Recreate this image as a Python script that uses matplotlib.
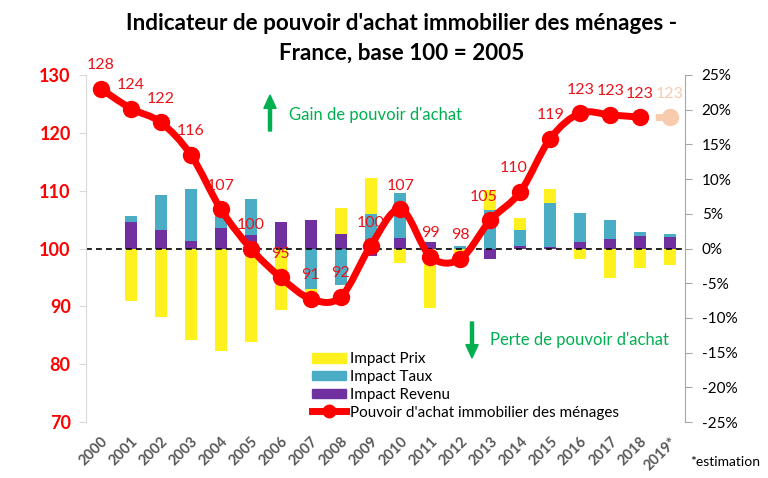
import numpy as np
import matplotlib

matplotlib.use("Agg")
import matplotlib.pyplot as plt
from matplotlib.path import Path
from matplotlib.patches import PathPatch, Patch, FancyArrow
from matplotlib.lines import Line2D

plt.rcParams["font.family"] = ["Lato", "DejaVu Sans"]

YEARS = ["2000", "2001", "2002", "2003", "2004", "2005", "2006", "2007", "2008",
         "2009", "2010", "2011", "2012", "2013", "2014", "2015", "2016", "2017",
         "2018", "2019*"]
# housing purchasing-power index, base 100 = 2005
INDEX = [127.6, 124.2, 121.8, 116.2, 106.8, 100.0, 95.0, 91.3, 91.6, 100.4,
         106.8, 98.6, 98.2, 104.9, 109.8, 119.0, 123.4, 123.1, 122.7, 122.7]
# contributions to the yearly change, in %
IMPACT_REVENU = [0.0, 3.8, 2.6, 1.1, 3.0, 1.9, 3.8, 4.1, 2.1, -1.1,
                 1.5, 0.95, 0.0, -1.45, 0.3, 0.2, 0.9, 1.3, 1.8, 1.6]
IMPACT_TAUX = [0.0, 0.9, 5.1, 7.5, 3.6, 5.2, 0.0, -5.8, -5.3, 4.95,
               6.5, 0.0, 0.3, 5.5, 2.3, 6.4, 4.2, 2.8, 0.55, 0.55]
IMPACT_PRIX = [0.0, -7.6, -9.9, -13.2, -14.8, -13.5, -8.9, -2.1, 3.7, 5.25,
               -2.1, -8.6, -0.6, 2.9, 1.8, 1.95, -1.55, -4.2, -2.8, -2.4]

YELLOW = "#FFF01F"
BLUE = "#4BACC6"
PURPLE = "#7030A0"
RED = "#FF0000"
LABEL_RED = "#E8141B"
PEACH = "#F8CBAD"
GREEN = "#00B050"


def smooth_path(xs, ys):
    """Excel-like smoothed line: cubic Bezier through every point."""
    pts = np.column_stack([xs, ys]).astype(float)
    n = len(pts)
    verts = [pts[0]]
    codes = [Path.MOVETO]
    for i in range(n - 1):
        p0 = pts[max(i - 1, 0)]
        p1, p2 = pts[i], pts[i + 1]
        p3 = pts[min(i + 2, n - 1)]
        verts += [p1 + (p2 - p0) / 6, p2 - (p3 - p1) / 6, p2]
        codes += [Path.CURVE4] * 3
    return Path(verts, codes)


fig = plt.figure(figsize=(7.68, 4.78), dpi=100)
ax = fig.add_axes([86 / 768, 1 - 422 / 478, 599 / 768, 347 / 478])
ax2 = ax.twinx()

x = np.arange(len(YEARS))

# ---- stacked contribution bars (right axis, %) ----------------------------
pos = np.zeros(len(x))
neg = np.zeros(len(x))
for vals, col in [(IMPACT_REVENU, PURPLE), (IMPACT_TAUX, BLUE),
                  (IMPACT_PRIX, YELLOW)]:
    v = np.array(vals)
    bottom = np.where(v >= 0, pos, neg)
    ax.bar(x, v, bottom=bottom, width=0.4, color=col, zorder=2)
    pos = pos + np.where(v >= 0, v, 0)
    neg = neg + np.where(v < 0, v, 0)

ax.axhline(0, color="black", lw=1.2, ls=(0, (3.5, 2.5)), zorder=3)
ax.set_xlim(-0.5, len(x) - 0.5)
ax.set_ylim(-25, 25)
ax.yaxis.tick_right()
ax.set_yticks(np.arange(-25, 26, 5))
ax.set_yticklabels([f"{t}%" for t in range(-25, 26, 5)], fontsize=11)
ax.tick_params(axis="y", direction="out", length=5, color="#A6A6A6", pad=7)
ax.set_xticks(x)
ax.set_xticklabels(YEARS, rotation=45, ha="right", rotation_mode="anchor",
                   fontsize=10.5, fontweight="bold", color="#595959")
ax.tick_params(axis="x", length=0, pad=9)
for s in ["top", "bottom", "left"]:
    ax.spines[s].set_visible(False)
ax.spines["right"].set_color("#A6A6A6")

# ---- index line (left axis) ------------------------------------------------
idx = np.array(INDEX)
ax2.add_patch(PathPatch(smooth_path(x[:-1], idx[:-1]), fill=False,
                        edgecolor=RED, lw=5, capstyle="round", zorder=4))
ax2.plot(x[-2:], idx[-2:], color=PEACH, lw=5, ls=(0, (1, 1.2)), zorder=4)
ax2.plot(x[:-1], idx[:-1], "o", color=RED, ms=11.5, zorder=5)
ax2.plot(x[-1:], idx[-1:], "o", color=PEACH, ms=11.5, zorder=5)
for i, v in enumerate(INDEX):
    dx = -5 if YEARS[i] in ("2013", "2014") else 0
    ax2.annotate(f"{v:.0f}", (x[i], v), xytext=(dx, 17),
                 textcoords="offset points", ha="center", va="center",
                 fontsize=11.5, color=PEACH if i == len(x) - 1 else LABEL_RED,
                 zorder=6)

ax2.set_ylim(70, 130)
ax2.yaxis.tick_left()
ax2.set_yticks(np.arange(70, 131, 10))
ax2.tick_params(axis="y", direction="out", length=5, color="#D9D9D9",
                labelsize=13, labelcolor=RED, pad=6)
for lab in ax2.get_yticklabels():
    lab.set_fontweight("bold")
for s in ["top", "bottom", "right"]:
    ax2.spines[s].set_visible(False)
ax2.spines["left"].set_color("#D9D9D9")

# ---- gain / loss annotations -----------------------------------------------
fig.patches.append(FancyArrow(
    270 / 768, 1 - 131 / 478, 0, 36 / 478, width=0.004, head_width=0.016,
    head_length=0.028, length_includes_head=True, color=GREEN,
    transform=fig.transFigure))
fig.text(289 / 768, 1 - 115 / 478, "Gain de pouvoir d'achat", color=GREEN,
         fontsize=12, va="center")
fig.patches.append(FancyArrow(
    472 / 768, 1 - 322 / 478, 0, -36 / 478, width=0.004, head_width=0.016,
    head_length=0.028, length_includes_head=True, color=GREEN,
    transform=fig.transFigure))
fig.text(490 / 768, 1 - 340 / 478, "Perte de pouvoir d'achat", color=GREEN,
         fontsize=12, va="center")

# ---- legend ------------------------------------------------------------------
handles = [Patch(color=YELLOW), Patch(color=BLUE), Patch(color=PURPLE),
           Line2D([], [], color=RED, lw=5, marker="o", ms=9)]
labels = ["Impact Prix", "Impact Taux", "Impact Revenu",
          "Pouvoir d'achat immobilier des ménages"]
ax2.legend(handles, labels, loc="upper left", frameon=False, fontsize=11,
           bbox_to_anchor=(306 / 768, 1 - 346 / 478),
           bbox_transform=fig.transFigure, borderaxespad=0, handlelength=2.2,
           handleheight=0.6, handletextpad=0.3, labelspacing=0.25)

fig.text(402 / 768, 1 - 23 / 478,
         "Indicateur de pouvoir d'achat immobilier des ménages -",
         ha="center", va="center", fontsize=16.2, fontweight="bold")
fig.text(402 / 768, 1 - 53 / 478, "France, base 100 = 2005",
         ha="center", va="center", fontsize=16.2, fontweight="bold")
fig.text(690 / 768, 1 - 462 / 478, "*estimation", fontsize=10, va="center")

fig.savefig("out.png", dpi=100)
